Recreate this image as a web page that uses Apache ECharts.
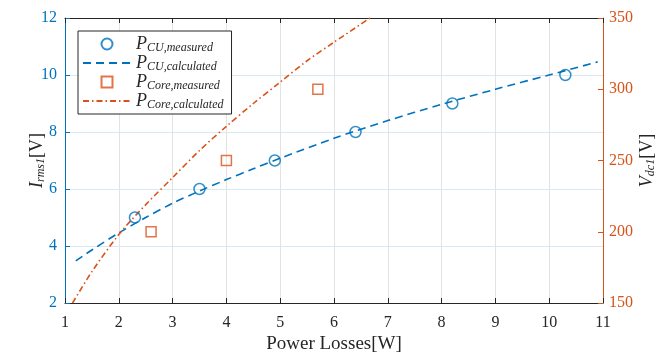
<!DOCTYPE html>
<html>
<head>
<meta charset="utf-8">
<script src="https://cdn.jsdelivr.net/npm/echarts@6/dist/echarts.min.js"></script>
<style>
  html, body { margin: 0; padding: 0; background: #ffffff; }
  #chart { width: 670px; height: 355px; }
</style>
</head>
<body>
<div id="chart"></div>
<script>
// Copper losses: measured points and fitted curve (left axis, I_rms1)
const cuMeasuredX = [2.3, 3.5, 4.9, 6.4, 8.2, 10.3];
const cuMeasuredY = [5, 6, 7, 8, 9, 10];
const cuCalcX = [1.2, 1.5, 2, 2.5, 3, 3.5, 4, 4.5, 5, 6, 7, 8, 9, 10, 10.9];
const cuCalcY = [3.48, 3.86, 4.46, 5.0, 5.5, 5.93, 6.33, 6.71, 7.08, 7.78, 8.4, 8.97, 9.5, 10.0, 10.46];

// Core losses: measured points and fitted curve (right axis, V_dc1)
const coreMeasuredX = [2.6, 4, 5.7];
const coreMeasuredY = [200, 250, 300];
const coreCalcX = [1.14, 1.5, 2, 2.5, 3, 3.5, 4, 4.5, 5, 5.5, 6, 6.67];
const coreCalcY = [150, 172, 198, 219, 238, 257, 274, 290, 305, 320, 333, 350];

// Axis ranges
const xRange = { min: 1, max: 11, interval: 1 };
const leftRange = { min: 2, max: 12, interval: 2 };
const rightRange = { min: 150, max: 350, interval: 50 };

const legendText = {
  cuMeasured: '{p|P}{s|CU,measured}',
  cuCalculated: '{p|P}{s|CU,calculated}',
  coreMeasured: '{p|P}{s|Core,measured}',
  coreCalculated: '{p|P}{s|Core,calculated}'
};

const BLUE = '#0072BD';
const ORANGE = '#D95319';
const DARK = '#262626';
const SERIF = '"Liberation Serif", "DejaVu Serif", serif';

const zip = (xs, ys) => xs.map((x, i) => [x, ys[i]]);

const mathRich = {
  p: { fontFamily: SERIF, fontStyle: 'italic', fontSize: 18, color: DARK, lineHeight: 20, verticalAlign: 'middle' },
  s: { fontFamily: SERIF, fontStyle: 'italic', fontSize: 12, color: DARK, lineHeight: 12, verticalAlign: 'bottom' },
  n: { fontFamily: SERIF, fontSize: 18, color: DARK, lineHeight: 20, verticalAlign: 'middle' }
};

// Legend entries: markers for measured sets, bare lines for fitted curves
const legendItems = [
  { name: 'cuMeasured', icon: 'circle' },
  { name: 'cuCalculated', itemStyle: { opacity: 0 } },
  { name: 'coreMeasured', icon: 'path://M0,0L10,0L10,10L0,10Z' },
  { name: 'coreCalculated', itemStyle: { opacity: 0 } }
];

const chart = echarts.init(document.getElementById('chart'), null, { renderer: 'canvas' });

chart.setOption({
  animation: false,
  backgroundColor: '#ffffff',
  grid: { left: 65, right: 67, top: 18, bottom: 52, outerBoundsMode: 'none', containLabel: false },
  legend: {
    data: legendItems,
    orient: 'vertical',
    left: 78,
    top: 31,
    padding: [4, 8, 3, 4],
    itemGap: 0,
    itemWidth: 48,
    itemHeight: 11,
    symbolKeepAspect: true,
    backgroundColor: '#ffffff',
    borderColor: DARK,
    borderWidth: 1,
    borderRadius: 0,
    formatter: name => legendText[name],
    textStyle: { rich: mathRich, padding: [0, 0, 0, 0] }
  },
  xAxis: [
    {
      type: 'value',
      position: 'bottom',
      min: xRange.min, max: xRange.max, interval: xRange.interval,
      name: 'Power Losses[W]',
      nameLocation: 'middle',
      nameGap: 32,
      nameMoveOverlap: false,
      nameTextStyle: { fontFamily: SERIF, fontSize: 19, color: DARK },
      axisLine: { show: true, onZero: false, lineStyle: { color: DARK, width: 1 } },
      axisTick: { show: true, inside: true, length: 5, lineStyle: { color: DARK } },
      axisLabel: { show: true, margin: 12, fontFamily: SERIF, fontSize: 16, color: DARK },
      splitLine: { show: true, lineStyle: { color: '#e3e3e3', width: 1 } }
    },
    {
      type: 'value',
      position: 'top',
      min: xRange.min, max: xRange.max, interval: xRange.interval,
      axisLine: { show: true, onZero: false, lineStyle: { color: DARK, width: 1 } },
      axisTick: { show: true, inside: true, length: 5, lineStyle: { color: DARK } },
      axisLabel: { show: false },
      splitLine: { show: false }
    }
  ],
  yAxis: [
    {
      type: 'value',
      position: 'left',
      min: leftRange.min, max: leftRange.max, interval: leftRange.interval,
      name: '{p|I}{s|rms1}{n|[V]}',
      nameLocation: 'middle',
      nameRotate: 90,
      nameGap: 18,
      nameMoveOverlap: false,
      nameTextStyle: { rich: mathRich },
      axisLine: { show: true, onZero: false, lineStyle: { color: BLUE, width: 1 } },
      axisTick: { show: true, inside: true, length: 5, lineStyle: { color: BLUE } },
      axisLabel: { show: true, margin: 8, fontFamily: SERIF, fontSize: 16, color: BLUE },
      splitLine: { show: true, lineStyle: { color: '#d9e8f3', width: 1 } }
    },
    {
      type: 'value',
      position: 'right',
      min: rightRange.min, max: rightRange.max, interval: rightRange.interval,
      name: '{p|V}{s|dc1}{n|[V]}',
      nameLocation: 'middle',
      nameRotate: 90,
      nameGap: 34,
      nameMoveOverlap: false,
      nameTextStyle: { rich: mathRich },
      axisLine: { show: true, onZero: false, lineStyle: { color: ORANGE, width: 1 } },
      axisTick: { show: true, inside: true, length: 5, lineStyle: { color: ORANGE } },
      axisLabel: { show: true, margin: 6, fontFamily: SERIF, fontSize: 16, color: ORANGE },
      splitLine: { show: false }
    }
  ],
  series: [
    {
      name: 'cuMeasured',
      type: 'scatter',
      xAxisIndex: 0, yAxisIndex: 0,
      symbol: 'circle',
      symbolSize: 11,
      itemStyle: { color: 'rgba(255,255,255,0)', borderColor: BLUE, borderWidth: 1.5 },
      data: zip(cuMeasuredX, cuMeasuredY),
      z: 4
    },
    {
      name: 'cuCalculated',
      type: 'line',
      xAxisIndex: 0, yAxisIndex: 0,
      symbol: 'none',
      smooth: 0.3,
      lineStyle: { color: BLUE, width: 1.6, type: [8, 5] },
      itemStyle: { color: BLUE },
      data: zip(cuCalcX, cuCalcY),
      z: 3
    },
    {
      name: 'coreMeasured',
      type: 'scatter',
      xAxisIndex: 0, yAxisIndex: 1,
      symbol: 'rect',
      symbolSize: 10,
      itemStyle: { color: 'rgba(255,255,255,0)', borderColor: ORANGE, borderWidth: 1.5 },
      data: zip(coreMeasuredX, coreMeasuredY),
      z: 4
    },
    {
      name: 'coreCalculated',
      type: 'line',
      xAxisIndex: 0, yAxisIndex: 1,
      symbol: 'none',
      smooth: 0.3,
      lineStyle: { color: ORANGE, width: 1.6, type: [6, 3, 1.5, 3] },
      itemStyle: { color: ORANGE },
      data: zip(coreCalcX, coreCalcY),
      z: 3
    }
  ]
});
</script>
</body>
</html>
